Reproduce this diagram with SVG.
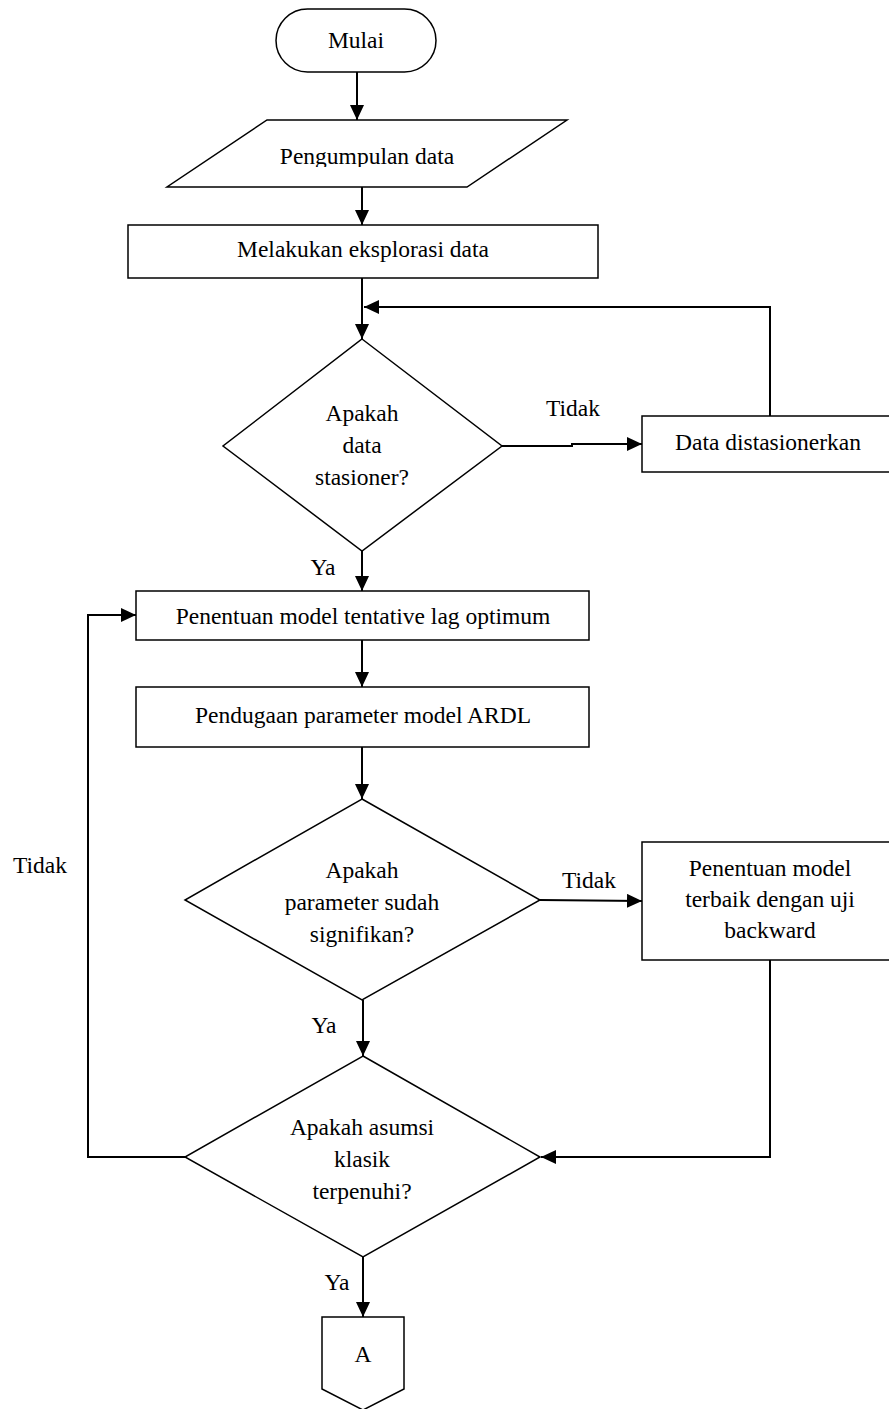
<svg xmlns="http://www.w3.org/2000/svg" width="889" height="1409" viewBox="0 0 889 1409">
<style>
  .shape { fill: #ffffff; stroke: #000000; stroke-width: 1.5; }
  .conn { fill: none; stroke: #000000; stroke-width: 2; marker-end: url(#arrow); }
  .lbl { font-family: 'Liberation Serif', 'Times New Roman', serif; font-size: 23.5px; fill: #000000; text-anchor: middle; }
</style>
<defs>
  <marker id="arrow" markerUnits="userSpaceOnUse" markerWidth="15" markerHeight="14" refX="15" refY="7" orient="auto">
    <path d="M0,0 L15,7 L0,14 z" fill="#000000"/>
  </marker>
  <clipPath id="clipPeng"><rect x="160" y="120" width="420" height="47"/></clipPath>
</defs>
<rect width="889" height="1409" fill="#ffffff"/>

<g id="connectors">
  <path class="conn" d="M357,72 L357,120"/>
  <path class="conn" d="M362,187 L362,225"/>
  <path class="conn" d="M362,278 L362,339"/>
  <path class="conn" d="M770,416 L770,307 L364,307"/>
  <path class="conn" d="M502,446 L572,446 L572,444 L642,444"/>
  <path class="conn" d="M362,551 L362,591"/>
  <path class="conn" d="M362,640 L362,687"/>
  <path class="conn" d="M362,747 L362,799"/>
  <path class="conn" d="M540,900 L642,901"/>
  <path class="conn" d="M363,1000 L363,1056"/>
  <path class="conn" d="M770,960 L770,1157 L541,1157"/>
  <path class="conn" d="M185,1157 L88,1157 L88,615 L136,615"/>
  <path class="conn" d="M363,1257 L363,1317"/>
  <text class="lbl" x="573" y="416">Tidak</text>
  <text class="lbl" x="323" y="575">Ya</text>
  <text class="lbl" x="40" y="873">Tidak</text>
  <text class="lbl" x="589" y="888">Tidak</text>
  <text class="lbl" x="324" y="1033">Ya</text>
  <text class="lbl" x="337" y="1290">Ya</text>
</g>

<g id="mulai">
  <rect class="shape" x="276" y="9" width="160" height="63" rx="31.5" ry="31.5"/>
  <text class="lbl" x="356" y="48">Mulai</text>
</g>

<g id="pengumpulan">
  <polygon class="shape" points="267,120 567,120 467,187 167,187"/>
  <text class="lbl" x="367" y="164" clip-path="url(#clipPeng)">Pengumpulan data</text>
</g>

<g id="eksplorasi">
  <rect class="shape" x="128" y="225" width="470" height="53"/>
  <text class="lbl" x="363" y="257">Melakukan eksplorasi data</text>
</g>

<g id="stasioner">
  <polygon class="shape" points="362,339 502,446 362,551 223,446"/>
  <text class="lbl" x="362" y="421">Apakah</text>
  <text class="lbl" x="362" y="453">data</text>
  <text class="lbl" x="362" y="485">stasioner?</text>
</g>

<g id="distasionerkan">
  <rect class="shape" x="642" y="416" width="248" height="56"/>
  <text class="lbl" x="768" y="450">Data distasionerkan</text>
</g>

<g id="lag">
  <rect class="shape" x="136" y="591" width="453" height="49"/>
  <text class="lbl" x="363" y="624">Penentuan model tentative lag optimum</text>
</g>

<g id="pendugaan">
  <rect class="shape" x="136" y="687" width="453" height="60"/>
  <text class="lbl" x="363" y="723">Pendugaan parameter model ARDL</text>
</g>

<g id="signifikan">
  <polygon class="shape" points="362,799 540,900 362,1000 185,900"/>
  <text class="lbl" x="362" y="878">Apakah</text>
  <text class="lbl" x="362" y="910">parameter sudah</text>
  <text class="lbl" x="362" y="942">signifikan?</text>
</g>

<g id="backward">
  <rect class="shape" x="642" y="842" width="248" height="118"/>
  <text class="lbl" x="770" y="876">Penentuan model</text>
  <text class="lbl" x="770" y="907">terbaik dengan uji</text>
  <text class="lbl" x="770" y="938">backward</text>
</g>

<g id="asumsi">
  <polygon class="shape" points="363,1056 540,1157 363,1257 185,1157"/>
  <text class="lbl" x="362" y="1135">Apakah asumsi</text>
  <text class="lbl" x="362" y="1167">klasik</text>
  <text class="lbl" x="362" y="1199">terpenuhi?</text>
</g>

<g id="connectorA">
  <polygon class="shape" points="322,1317 404,1317 404,1389 363,1410 322,1389"/>
  <text class="lbl" x="363" y="1362">A</text>
</g>
</svg>
